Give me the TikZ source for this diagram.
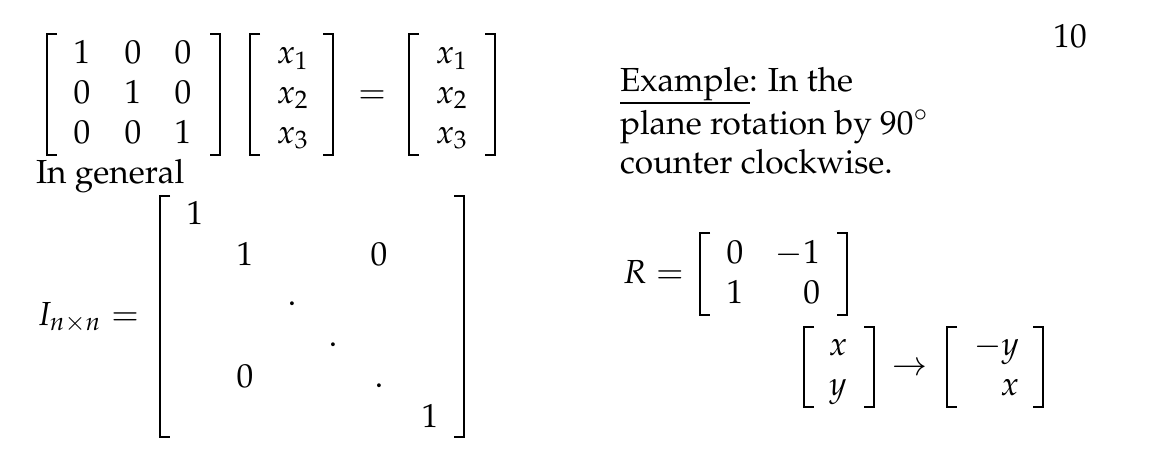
\documentclass[tikz,border=0pt]{standalone}
\usepackage[T1]{fontenc}
\usepackage{mathpazo}
\tikzset{
  brk/.style={line width=0.7pt, line join=miter},
  tx/.style={inner sep=0pt, outer sep=0pt, anchor=base},
  txw/.style={tx, anchor=base west},
  txe/.style={tx, anchor=base east},
  uline/.style={line width=0.5pt}
}
\newcommand\myLB[3]{\draw[brk] (#1+10,#2) -- (#1,#2) -- (#1,#3) -- (#1+10,#3);}
\newcommand\myRB[3]{\draw[brk] (#1-10,#2) -- (#1,#2) -- (#1,#3) -- (#1-10,#3);}
\begin{document}
\begin{tikzpicture}[x=0.3pt,y=-0.3pt]
\path[fill=white] (0,0) rectangle (1157,466);
\useasboundingbox (0,0) rectangle (1157,466);

% 3x3 identity times vector
\myLB{47}{34}{155}
\myRB{220}{34}{155}
\node[tx] (a11) at (82,63) {$1$};
\node[tx] (a12) at (133,63) {$0$};
\node[tx] (a13) at (183,63) {$0$};
\node[tx] (a21) at (82,103) {$0$};
\node[tx] (a22) at (133,103) {$1$};
\node[tx] (a23) at (183,103) {$0$};
\node[tx] (a31) at (82,143) {$0$};
\node[tx] (a32) at (133,143) {$0$};
\node[tx] (a33) at (183,143) {$1$};

\myLB{250}{34}{155}
\myRB{333}{34}{155}
\node[tx] (v1) at (293,63) {$x_1$};
\node[tx] (v2) at (293,103) {$x_2$};
\node[tx] (v3) at (293,143) {$x_3$};

\node[tx] (eq1) at (372,103) {$=$};

\myLB{409}{34}{155}
\myRB{495}{34}{155}
\node[tx] (w1) at (452,63) {$x_1$};
\node[tx] (w2) at (452,103) {$x_2$};
\node[tx] (w3) at (452,143) {$x_3$};

\node[txw] (ingen) at (36,183) {In general};

% general identity
\node[txw] (inn) at (37,325) {$I_{n\times n} =$};
\myLB{160}{196}{437}
\myRB{464}{196}{437}
\node[tx] (b11) at (195,224) {$1$};
\node[tx] (b22) at (245,265) {$1$};
\node[tx] (b25) at (379,265) {$0$};
\node[tx] (b33) at (292,305) {$.$};
\node[tx] (b44) at (333,346) {$.$};
\node[tx] (b52) at (245,387) {$0$};
\node[tx] (b55) at (379,387) {$.$};
\node[tx] (b66) at (430,427) {$1$};

% page number
\node[tx] (pg) at (1070,47) {10};

% example text
\node[txw] (ex1) at (620,91) {Example: In the};
\draw[uline] (620,103) -- (750,103);
\node[txw] (ex2) at (620,134) {plane rotation by $90^\circ$};
\node[txw] (ex3) at (620,173) {counter clockwise.};

% rotation matrix
\node[txw] (req) at (623,283) {$R =$};
\myLB{700}{233}{315}
\myRB{847}{233}{315}
\node[tx] (r11) at (735,263) {$0$};
\node[txe] (r12) at (820,263) {$-1$};
\node[tx] (r21) at (735,303) {$1$};
\node[txe] (r22) at (820,303) {$0$};

\myLB{804}{327}{407}
\myRB{874}{327}{407}
\node[tx] (px) at (838,355) {$x$};
\node[tx] (py) at (838,395) {$y$};

\node[tx] (to) at (910,375) {$\to$};

\myLB{947}{327}{407}
\myRB{1043}{327}{407}
\node[txe] (qy) at (1019,355) {$-y$};
\node[txe] (qx) at (1019,395) {$x$};
\end{tikzpicture}
\end{document}
